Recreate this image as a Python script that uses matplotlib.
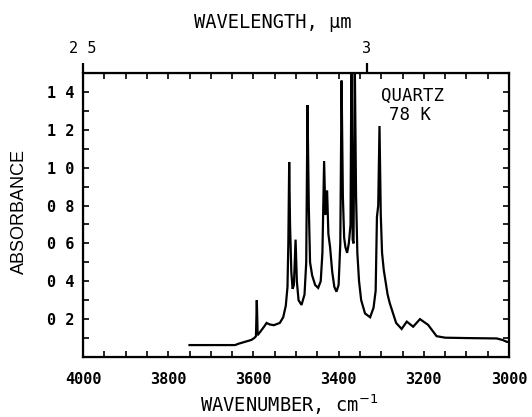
import matplotlib
matplotlib.use("Agg")
import matplotlib.pyplot as plt
from matplotlib.ticker import MultipleLocator, FixedLocator

# Spectrum (wavenumber cm^-1, absorbance)
wavenumber = [3750, 3643, 3635, 3620, 3605, 3598, 3594, 3592, 3590, 3585,
              3575, 3569, 3562, 3552, 3538, 3530, 3524, 3520, 3518, 3516,
              3514, 3511, 3508, 3505, 3501, 3498, 3494, 3487, 3480, 3476,
              3473, 3470, 3467, 3462, 3455, 3448, 3442, 3438, 3434, 3431,
              3427, 3424, 3420, 3415, 3410, 3405, 3400, 3396, 3393, 3390,
              3387, 3384, 3380, 3376, 3372, 3370, 3367, 3365, 3362, 3359,
              3356, 3352, 3347, 3338, 3326, 3318, 3313, 3310, 3307, 3304,
              3301, 3298, 3294, 3285, 3280, 3265, 3252, 3240, 3225, 3209,
              3190, 3170, 3150, 3100, 3029, 3015, 3005, 3000]
absorbance = [0.063, 0.063, 0.070, 0.080, 0.090, 0.100, 0.110, 0.300, 0.115, 0.130,
              0.160, 0.180, 0.172, 0.168, 0.180, 0.210, 0.270, 0.370, 0.600, 1.030,
              0.700, 0.450, 0.360, 0.380, 0.620, 0.400, 0.300, 0.275, 0.330, 0.500,
              1.330, 0.800, 0.500, 0.430, 0.380, 0.365, 0.400, 0.550, 1.035, 0.750,
              0.880, 0.650, 0.580, 0.450, 0.370, 0.345, 0.380, 0.600, 1.460, 0.850,
              0.630, 0.580, 0.550, 0.600, 0.700, 1.550, 0.620, 0.600, 1.550, 0.850,
              0.550, 0.400, 0.300, 0.230, 0.210, 0.260, 0.350, 0.740, 0.800, 1.220,
              0.750, 0.550, 0.460, 0.330, 0.285, 0.180, 0.148, 0.187, 0.160, 0.200,
              0.170, 0.110, 0.102, 0.100, 0.098, 0.090, 0.080, 0.080]

x_ticks = [4000, 3800, 3600, 3400, 3200, 3000]
x_labels = ["4000", "3800", "3600", "3400", "3200", "3000"]
y_ticks = [0.2, 0.4, 0.6, 0.8, 1.0, 1.2, 1.4]
y_labels = ["0 2", "0 4", "0 6", "0 8", "1 0", "1 2", "1 4"]
wl_ticks = [2.5, 3.0]
wl_labels = ["2 5", "3"]

mono = "DejaVu Sans Mono"

fig = plt.figure(figsize=(5.32, 4.17), dpi=100)
ax = fig.add_axes([83/532, 60/417, 426/532, 284/417])
ax.plot(wavenumber, absorbance, color="black", lw=1.6, solid_joinstyle="miter")
ax.set_xlim(4000, 3000)
ax.set_ylim(0, 1.5)

for s in ax.spines.values():
    s.set_linewidth(1.6)

ax.xaxis.set_major_locator(FixedLocator(x_ticks))
ax.set_xticklabels(x_labels, fontfamily=mono, fontweight="bold", fontsize=11)
ax.xaxis.set_minor_locator(MultipleLocator(50))
ax.yaxis.set_major_locator(FixedLocator(y_ticks))
ax.set_yticklabels(y_labels, fontfamily=mono, fontweight="bold", fontsize=11)
ax.yaxis.set_minor_locator(MultipleLocator(0.1))
ax.tick_params(axis="x", which="both", direction="in", length=4, width=1.2,
               top=False, pad=11)
ax.tick_params(axis="y", which="both", direction="in", length=4, width=1.2,
               left=True, right=True, pad=6)

# top wavelength axis
ax2 = ax.twiny()
ax2.set_xlim(ax.get_xlim())
ax2.xaxis.set_major_locator(FixedLocator([1e4 / w for w in wl_ticks]))
ax2.set_xticklabels(wl_labels, fontfamily=mono, fontsize=11)
ax2.xaxis.set_minor_locator(MultipleLocator(50))
ax2.tick_params(axis="x", which="major", direction="out", length=7, width=1.6, pad=5)
ax2.tick_params(axis="x", which="minor", direction="in", length=4, width=1.2)

fig.text(273/532, 1 - 22/417, "WAVELENGTH, \u03bcm", ha="center", va="center",
         fontfamily=mono, fontsize=13.5)
fig.text(289/532, 1 - 405/417, "WAVENUMBER, cm$^{-1}$", ha="center", va="center",
         fontfamily=mono, fontsize=13.5)
fig.text(19/532, 1 - 212/417, "ABSORBANCE", ha="center", va="center",
         rotation=90, fontfamily="Liberation Sans", fontsize=13)
fig.text(412/532, 1 - 96/417, "QUARTZ", ha="center", va="center",
         fontfamily=mono, fontsize=12.5)
fig.text(410/532, 1 - 115/417, "78 K", ha="center", va="center",
         fontfamily=mono, fontsize=12.5)

fig.savefig("out.png", dpi=100)
